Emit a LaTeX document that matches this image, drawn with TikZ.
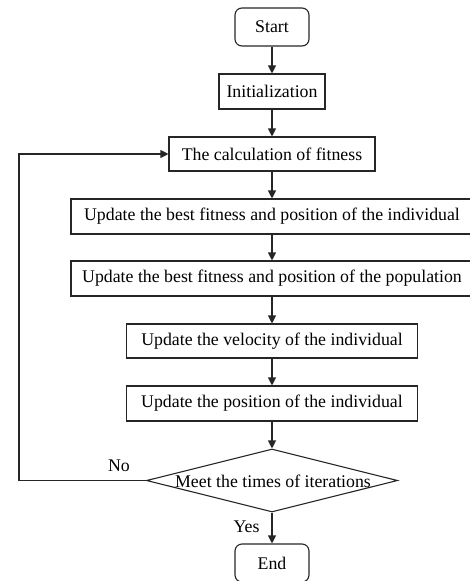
\documentclass[tikz,border=0pt]{standalone}
\usepackage{fontspec}
\setmainfont{Liberation Serif}
\usetikzlibrary{shapes.geometric,arrows.meta}
\begin{document}
\begin{tikzpicture}[x=1pt,y=-1pt,
  every node/.style={font=\fontsize{17.8}{21}\selectfont},
  line/.style={draw=black!85, line width=1.1pt},
  box/.style={line, rectangle, inner sep=0pt},
  term/.style={box, rounded corners=7pt},
  dia/.style={line, diamond, inner sep=0pt},
  arr/.style={line, -{Triangle[length=8pt,width=8pt]}},
  lbl/.style={inner sep=0pt}]
\useasboundingbox (0,0) rectangle (470,581);
\node[term, minimum width=74pt, minimum height=38pt] (start) at (272,27) {Start};
\node[box, minimum width=106pt, minimum height=35pt] (init) at (272,91.5) {Initialization};
\node[box, minimum width=206pt, minimum height=34pt] (calc) at (272,154) {The calculation of fitness};
\node[box, minimum width=402pt, minimum height=35pt] (ind) at (272,216.5) {Update the best fitness and position of the individual};
\node[box, minimum width=402pt, minimum height=35pt] (pop) at (272,278.5) {Update the best fitness and position of the population};
\node[box, minimum width=291pt, minimum height=34pt] (vel) at (272,341) {Update the velocity of the individual};
\node[box, minimum width=291pt, minimum height=35pt] (pos) at (272,403.5) {Update the position of the individual};
\node[dia, minimum width=251pt, minimum height=63pt] (dec) at (272,480.5) {};
\node[lbl] (dectext) at (273,481) {Meet the times of iterations};
\node[term, minimum width=74pt, minimum height=38pt] (end) at (272,563) {End};
\node[lbl] (no) at (119,466) {No};
\node[lbl] (yes) at (246.5,527) {Yes};
\coordinate (c1) at (19,480.5);
\coordinate (c2) at (19,154);
\draw[arr] (start) -- (init);
\draw[arr] (init) -- (calc);
\draw[arr] (calc) -- (ind);
\draw[arr] (ind) -- (pop);
\draw[arr] (pop) -- (vel);
\draw[arr] (vel) -- (pos);
\draw[arr] (pos) -- (dec);
\draw[arr] (dec) -- (end);
\draw[arr] (dec.west) -- (c1) -- (c2) -- (calc.west);
\end{tikzpicture}
\end{document}
